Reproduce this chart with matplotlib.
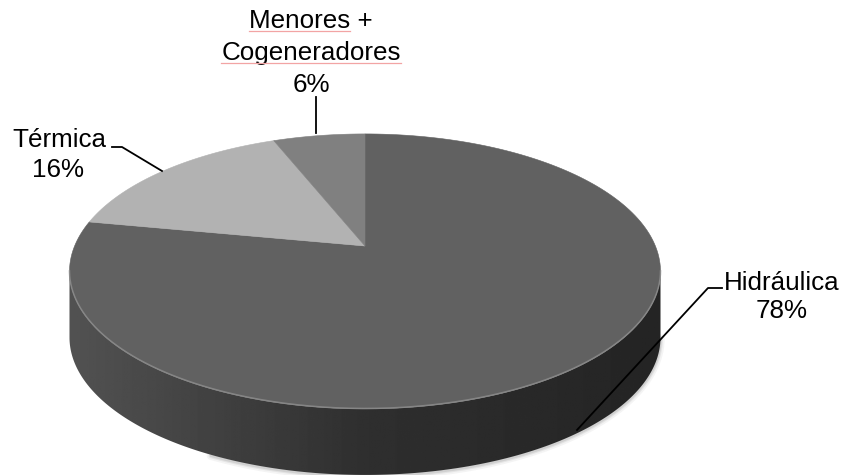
import numpy as np
import matplotlib.pyplot as plt
from matplotlib.patches import Polygon

plt.rcParams['font.family'] = ['Liberation Sans', 'DejaVu Sans']

# generation mix, drawn clockwise from 12 o'clock
labels = ['Hidráulica', 'Térmica', 'Menores +\nCogeneradores']
shares = [78, 16, 6]
top_colors = ['#616161', '#b2b2b2', '#808080']

W, H = 843, 475
CX, CY = 365, 246          # projected pie centre (px)
SX, SY, K = 290.4, 132.8, 0.185   # perspective squash of the disc
DEPTH = 66                 # height of the side wall (px)
FS = 18.7


def project(alpha):
    """alpha measured clockwise from 12 o'clock, radians -> screen px"""
    u, w = np.sin(alpha), np.cos(alpha)
    d = 1 + K * w
    return CX + SX * u / d, CY - SY * w / d


fig = plt.figure(figsize=(W / 100, H / 100), dpi=100)
ax = fig.add_axes([0, 0, 1, 1])
ax.set_xlim(0, W)
ax.set_ylim(H, 0)
ax.axis('off')

# side wall: near half of the rim between the two silhouette points
a_right = np.arctan2(np.sqrt(1 - K**2), -K)
a_left = 2 * np.pi - a_right
arc = np.linspace(a_right, a_left, 300)
tx, ty = project(arc)
side = np.column_stack([np.r_[tx, tx[::-1]], np.r_[ty, ty[::-1] + DEPTH]])

# soft shadow under the wall
for lw, al in [(6, 0.08), (3.5, 0.12), (1.8, 0.18)]:
    ax.plot(tx[:200], ty[:200] + DEPTH + 1, color='#777777', lw=lw, alpha=al,
            solid_capstyle='round', zorder=1)

side_patch = Polygon(side, closed=True, facecolor='none', edgecolor='none', zorder=2)
ax.add_patch(side_patch)
xs = np.linspace(tx.min(), tx.max(), 400)
shade = np.interp(xs, [tx.min(), CX, tx.max()], [0x52, 0x2f, 0x24]) / 255
img = ax.imshow(shade[None, :], cmap='gray', vmin=0, vmax=1, aspect='auto',
                extent=(tx.min(), tx.max(), ty.max() + DEPTH, ty.min()), zorder=2)
img.set_clip_path(side_patch)

# top face slices
bounds = np.r_[0, np.cumsum(shares)] / sum(shares) * 2 * np.pi
for a0, a1, col in zip(bounds[:-1], bounds[1:], top_colors):
    px, py = project(np.linspace(a0, a1, 200))
    verts = np.column_stack([np.r_[CX, px], np.r_[CY, py]])
    ax.add_patch(Polygon(verts, closed=True, facecolor=col, edgecolor=col,
                         lw=0.4, zorder=3))

# bevel highlight along the front rim
ax.plot(tx, ty - 0.5, color='#8e8e8e', lw=1.1, alpha=0.8, zorder=4)

# leader lines
line_kw = dict(color='black', lw=1.3, zorder=5)
ax.plot([577, 708, 722], [430, 288, 288], **line_kw)
ax.plot([112, 122, 162], [147, 147, 171], **line_kw)
ax.plot([316, 316], [97, 133], **line_kw)

# labels
text_kw = dict(fontsize=FS, ha='center', va='baseline', color='black', zorder=6)
ax.text(782, 290, 'Hidráulica', **text_kw)
ax.text(782, 318, '78%', **text_kw)
ax.text(59, 147, 'Térmica', **text_kw)
ax.text(58, 177, '16%', **text_kw)
t1 = ax.text(311, 28, 'Menores +', **text_kw)
t2 = ax.text(311, 60, 'Cogeneradores', **text_kw)
ax.text(311, 92, '6%', **text_kw)

# spell-check underline beneath the two words
fig.canvas.draw()
r = fig.canvas.get_renderer()
probe = ax.text(0, 0, 'Menores', fontsize=FS)
w_men = probe.get_window_extent(r).width
probe.remove()
b1 = t1.get_window_extent(r)
b2 = t2.get_window_extent(r)
ax.plot([b1.x0, b1.x0 + w_men], [31, 31], color='#f2a4a4', lw=0.9, zorder=6)
ax.plot([b2.x0, b2.x1], [63, 63], color='#f2a4a4', lw=0.9, zorder=6)

fig.savefig('out.png', dpi=100, facecolor='white')
